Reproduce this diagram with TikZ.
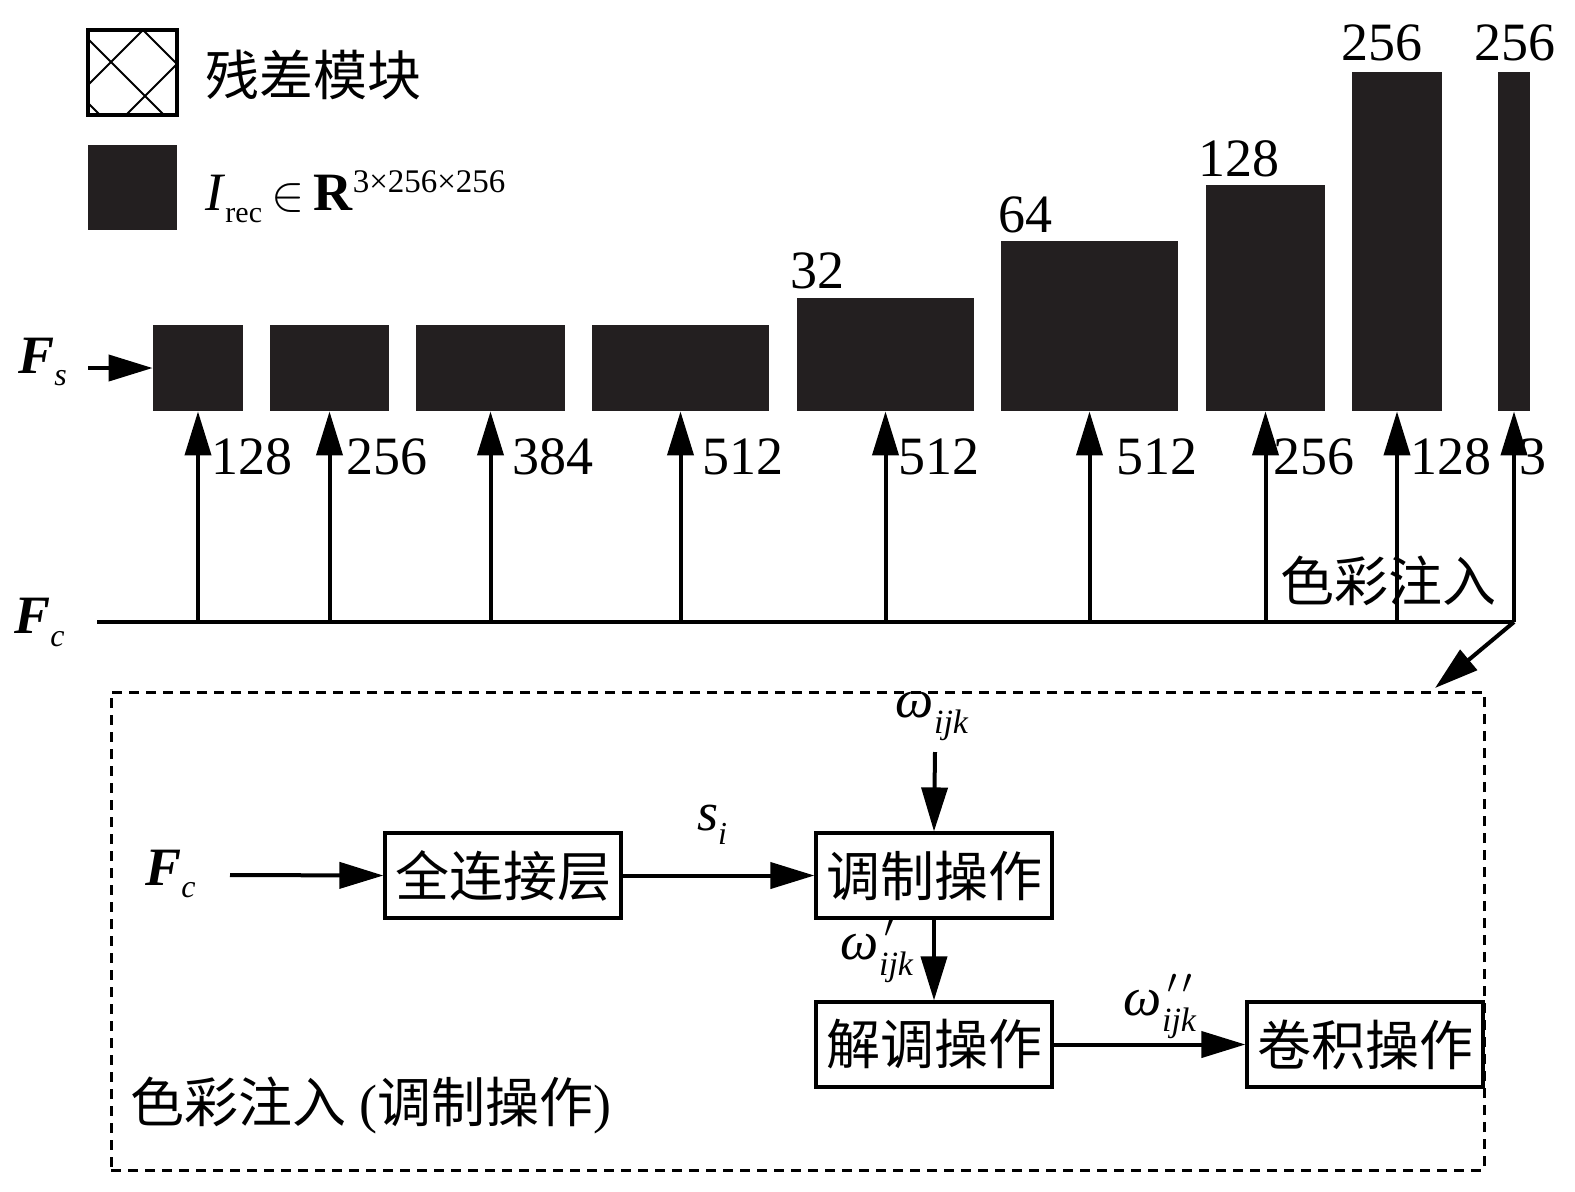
\documentclass[tikz,border=0pt]{standalone}
\usepackage{fontspec}
\setmainfont{Liberation Serif}
\newfontfamily\cjk{Noto Sans CJK SC}
\usetikzlibrary{arrows.meta,fit}
\definecolor{blkc}{RGB}{35,31,32}
\newcommand\fs[1]{\fontsize{#1}{#1}\selectfont}
\newcommand\dn[3]{\raisebox{-#2pt}{\fs{#1}\itshape #3}}
\begin{document}
\begin{tikzpicture}[x=0.5pt,y=-0.5pt,
  blk/.style={fill=blkc, draw=none, inner sep=0pt},
  arr/.style={line width=2pt, -{Triangle[length=22pt,width=13pt]}},
  ln/.style={line width=2pt},
  num/.style={font=\fs{27}, inner sep=0pt},
  cjkt/.style={font=\cjk\fs{27}, inner sep=0pt},
  opbox/.style={draw, line width=1.6pt, minimum width=118pt, minimum height=42.5pt, inner sep=0pt, font=\cjk\fs{27}},
  dbox/.style={draw, line width=1.5pt, dash pattern=on 5pt off 3.5pt, inner sep=0pt},
  lbl/.style={inner sep=0pt, font=\fs{27}},
  glbl/.style={inner sep=0pt, font=\fs{27}}]

\useasboundingbox (0,0) rectangle (1575,1191);

% legend
\node[draw, line width=1.6pt, fit={(88,30) (177,115)}, inner sep=0pt] (hatch) {};
\begin{scope}
  \clip (88,30) rectangle (177,115);
  \draw[line width=0.9pt] (143,30) -- (88,85)  (177,64) -- (124,117)
    (88,39) -- (166,117)  (143,30) -- (179,66)  (88,103) -- (102,117);
\end{scope}
\node[blk, fit={(88,145) (177,230)}] (lblk) {};
\node[cjkt, anchor=west] (lt1) at (205,75) {残差模块};
\node[lbl, anchor=base west] (lt2) at (205,210) {\textit{I}\dn{15}{6}{\upshape rec}\,$\in$\,\textbf{R}\raisebox{9pt}{\fs{16.5}3×256×256}};

% blocks
\node[blk, fit={(153,325) (243,411)}] (b1) {};
\node[blk, fit={(270,325) (389,411)}] (b2) {};
\node[blk, fit={(416,325) (565,411)}] (b3) {};
\node[blk, fit={(592,325) (769,411)}] (b4) {};
\node[blk, fit={(797,298) (974,411)}] (b5) {};
\node[blk, fit={(1001,241) (1178,411)}] (b6) {};
\node[blk, fit={(1206,185) (1325,411)}] (b7) {};
\node[blk, fit={(1352,72) (1442,411)}] (b8) {};
\node[blk, fit={(1498,72) (1530,411)}] (b9) {};

% top labels
\node[num, anchor=base west] (t5) at (790,288) {32};
\node[num, anchor=base west] (t6) at (998,232) {64};
\node[num, anchor=base west] (t7) at (1198,176) {128};
\node[num, anchor=base west] (t8) at (1341,60) {256};
\node[num, anchor=base west] (t9) at (1474,60) {256};

% bottom labels
\node[num, anchor=base west] (n1) at (211,474) {128};
\node[num, anchor=base west] (n2) at (346,474) {256};
\node[num, anchor=base west] (n3) at (512,474) {384};
\node[num, anchor=base west] (n4) at (702,474) {512};
\node[num, anchor=base west] (n5) at (898,474) {512};
\node[num, anchor=base west] (n6) at (1116,474) {512};
\node[num, anchor=base west] (n7) at (1273,474) {256};
\node[num, anchor=base west] (n8) at (1410,474) {128};
\node[num, anchor=base west] (n9) at (1519,474) {3};

% Fs, Fc
\node[lbl, anchor=base west] (Fs) at (18,373) {\textbf{\textit{F}}\dn{16}{6}{s}};
\node[lbl, anchor=base west] (Fc) at (14,633) {\textbf{\textit{F}}\dn{16}{6.5}{c}};
\coordinate (fsl) at (88,368);
\draw[arr] (fsl) -- (b1.west);

\coordinate (fcl) at (97,622);
\coordinate (fcr) at (1514,622);
\draw[ln] (fcl) -- (fcr);
\foreach \b in {b1,b2,b3,b4,b5,b6,b7,b8,b9}
  \draw[arr] (\b.south |- fcl) -- (\b.south);
\node[cjkt] (ci) at (1388,581) {色彩注入};

% dashed box
\node[dbox, fit={(111,692) (1484,1170)}] (cbox) {};
\coordinate (dtip) at (1435,688);
\draw[arr] (fcr) -- (dtip);

% inner diagram
\node[lbl, anchor=base west] (Fc2) at (145,885) {\textbf{\textit{F}}\dn{16}{6}{c}};
\coordinate (fc2s) at (230,875);
\node[opbox] (fc) at (503,875.5) {全连接层};
\node[opbox] (mod) at (934,875.5) {调制操作};
\node[opbox] (demod) at (934,1044.5) {解调操作};
\node[opbox] (conv) at (1365,1044.5) {卷积操作};
\draw[arr] (fc2s) -- (fc.west);
\draw[arr] (fc.east) -- (mod.west);
\node[glbl] (si) at (712,825) {\textit{s}\dn{16}{7}{i}};
\node[glbl] (w0) at (932,716) {\textit{ω}\dn{17}{8}{ijk}};
\coordinate (w0s) at (935,752);
\draw[arr] (w0s) -- (mod.north);
\draw[arr] (mod.south) -- (demod.north);
\node[glbl] (w1) at (877,950) {\textit{ω}\rlap{\raisebox{11pt}{\fs{17}\,$\prime$}}\dn{17}{8}{ijk}};
\draw[arr] (demod.east) -- (conv.west);
\node[glbl] (w2) at (1160,1006) {\textit{ω}\rlap{\raisebox{11pt}{\fs{17}\,$\prime\,\prime$}}\dn{17}{8}{ijk}};
\node[lbl, anchor=west] (cap) at (130,1105) {{\cjk 色彩注入} ({\cjk 调制操作})};
\end{tikzpicture}
\end{document}
